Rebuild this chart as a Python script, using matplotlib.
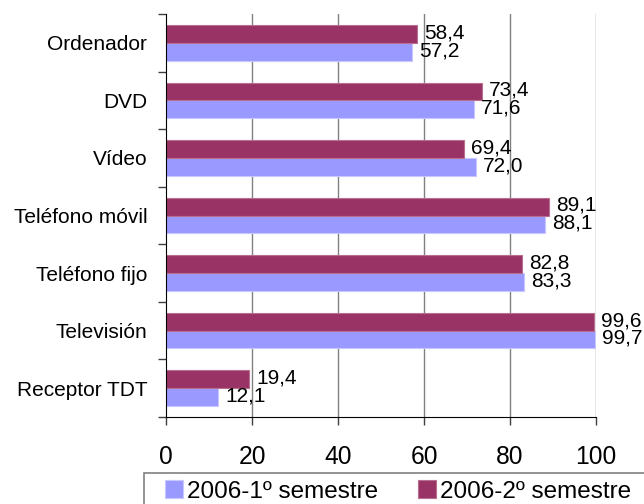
import matplotlib
matplotlib.use("Agg")
import matplotlib.pyplot as plt
from matplotlib.patches import Rectangle
import numpy as np

plt.rcParams['font.family'] = ['Liberation Sans', 'DejaVu Sans']

categories = ["Ordenador", "DVD", "Vídeo", "Teléfono móvil", "Teléfono fijo",
              "Televisión", "Receptor TDT"]
sem1 = [57.2, 71.6, 72.0, 88.1, 83.3, 99.7, 12.1]
sem2 = [58.4, 73.4, 69.4, 89.1, 82.8, 99.6, 19.4]
series_names = ["2006-1º semestre", "2006-2º semestre"]
xticks = [0, 20, 40, 60, 80, 100]

c1 = "#9999FF"
c2 = "#993366"

W, H = 644, 504
fig = plt.figure(figsize=(W/100, H/100), dpi=100)
ax = fig.add_axes([166/W, 1-417/H, (596-166)/W, (417-14)/H])

y = np.arange(len(categories))
h = 0.31
b1 = ax.barh(y + h/2, sem1, height=h, color=c1, edgecolor="#C8C8FF", linewidth=0.8,
             label=series_names[0], zorder=3)
b2 = ax.barh(y - h/2, sem2, height=h, color=c2, edgecolor="#B86E8E", linewidth=0.8,
             label=series_names[1], zorder=3)

def fmt(v):
    return f"{v:.1f}".replace(".", ",")

for yi, v in zip(y, sem1):
    ax.text(v + 1.6, yi + h/2 - 0.02, fmt(v), va="center", ha="left", fontsize=15, zorder=4)
for yi, v in zip(y, sem2):
    ax.text(v + 1.6, yi - h/2 - 0.02, fmt(v), va="center", ha="left", fontsize=15, zorder=4)

ax.set_xlim(0, 100)
ax.set_ylim(len(categories) - 0.5, -0.5)

ax.set_xticks(xticks)
ax.set_xticklabels([str(t) for t in xticks], fontsize=17.7)
ax.tick_params(axis="x", direction="out", length=5.5, width=1, color="#404040", pad=15)

ax.set_yticks(y)
ax.set_yticklabels(categories, fontsize=15)
ax.tick_params(axis="y", which="major", length=0, pad=13.5)
ax.set_yticks(np.arange(-0.5, len(categories)), minor=True)
ax.tick_params(axis="y", which="minor", direction="out", length=5.8, width=1, color="#404040")

for t in xticks[1:]:
    ax.axvline(t, color="#808080", linewidth=1, zorder=1)

for s in ["top", "right"]:
    ax.spines[s].set_visible(False)
ax.spines["left"].set_color("black")
ax.spines["bottom"].set_color("black")
ax.spines["left"].set_zorder(5)

# legend (drawn in pixel-based figure coordinates)
def fx(px):
    return px / W
def fy(py):
    return 1 - py / H

fig.patches.append(Rectangle((fx(144), fy(520)), fx(660) - fx(144), fy(473) - fy(520),
                             transform=fig.transFigure, facecolor="white",
                             edgecolor="#808080", linewidth=1.2))
entries = [(165, c1, "#C8C8FF", series_names[0]), (418, c2, "#B86E8E", series_names[1])]
for x0, col, ec, name in entries:
    fig.patches.append(Rectangle((fx(x0), fy(498)), fx(18), 18/H,
                                 transform=fig.transFigure, facecolor=col,
                                 edgecolor=ec, linewidth=0.8))
    fig.text(fx(x0 + 22), fy(498), name, fontsize=17.5, ha="left", va="baseline")

fig.savefig("out.png", dpi=100)
